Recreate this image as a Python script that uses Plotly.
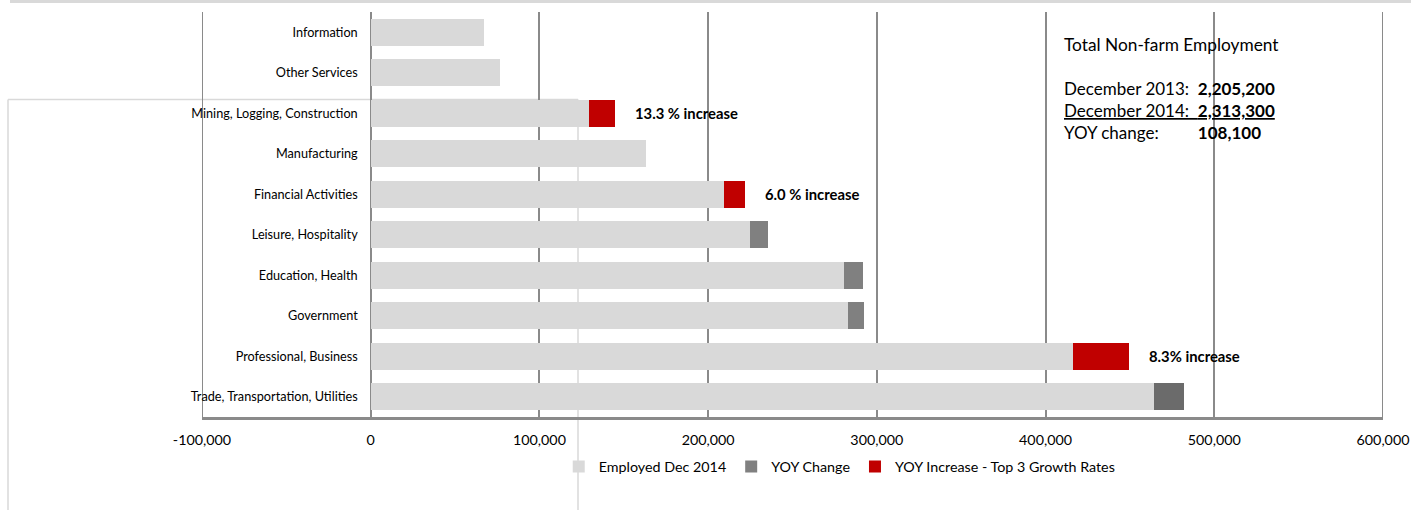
import plotly.graph_objects as go

# ---------------- data ----------------
categories = [
    "Information",
    "Other Services",
    "Mining, Logging, Construction",
    "Manufacturing",
    "Financial Activities",
    "Leisure, Hospitality",
    "Education, Health",
    "Government",
    "Professional, Business",
    "Trade, Transportation, Utilities",
]
employed_dec_2014 = [67000, 76900, 129200, 163000, 209200, 224700, 280800, 282800, 416500, 464000]
yoy_change = [0, 0, 0, 0, 0, 10800, 10800, 9800, 0, 17900]
yoy_top3 = [0, 0, 15400, 0, 12500, 0, 0, 0, 32800, 0]
growth_labels = ["", "", "13.3 % increase", "", "6.0 % increase", "", "", "", "8.3% increase", ""]

x_tickvals = [-100000, 0, 100000, 200000, 300000, 400000, 500000, 600000]
x_ticktext = ["-100,000", "0", "100,000", "200,000", "300,000", "400,000", "500,000", "600,000"]

summary_title = "Total Non-farm Employment"
summary_rows = [
    ("December 2013:", "2,205,200", False),
    ("December 2014:", "2,313,300", True),
    ("YOY change:", "108,100", False),
]

# ---------------- styles ----------------
FONT = "Lato, 'Open Sans', Arial, sans-serif"
LIGHT = "#d9d9d9"
DARK = "#808080"
DARKER = "#6b6b6b"
RED = "#c00000"
GRID = "#8a8a8a"

change_colors = [DARKER if c.startswith("Trade") else DARK for c in categories]

fig = go.Figure()
fig.add_trace(go.Bar(
    y=categories, x=employed_dec_2014, orientation="h",
    name="Employed Dec 2014", marker=dict(color=LIGHT, line=dict(width=0)),
))
fig.add_trace(go.Bar(
    y=categories, x=yoy_change, orientation="h",
    name="YOY Change", marker=dict(color=change_colors, line=dict(width=0)),
))
fig.add_trace(go.Bar(
    y=categories, x=yoy_top3, orientation="h",
    name="YOY Increase - Top 3 Growth Rates", marker=dict(color=RED, line=dict(width=0)),
))

# growth annotations next to red bars
for cat, e, c, t, lab in zip(categories, employed_dec_2014, yoy_change, yoy_top3, growth_labels):
    if lab:
        fig.add_annotation(
            x=e + c + t, y=cat, xref="x", yref="y",
            text="<b>" + lab + "</b>", showarrow=False,
            xanchor="left", yanchor="middle", xshift=18,
            font=dict(family=FONT, size=14.8, color="#000000"),
        )

# pixel -> paper helpers (plot area 202..1383 x 12..417)
def px_to_paper_x(px):
    return (px - 202) / 1181.0

def px_to_paper_y(py):
    return (417 - py) / 405.0

fig.add_annotation(
    x=px_to_paper_x(1062), y=px_to_paper_y(44), xref="paper", yref="paper",
    text=summary_title, showarrow=False, xanchor="left", yanchor="middle",
    font=dict(family=FONT, size=17.3, color="#000000"),
)
NB = "\u00a0"
for i, (lab, val, underline) in enumerate(summary_rows):
    gap = NB * 2 if i < 2 else NB * 9
    txt = lab + gap + "<b>" + val + "</b>"
    if underline:
        txt = '<span style="text-decoration:underline">' + txt + "</span>"
    fig.add_annotation(
        x=px_to_paper_x(1062), y=px_to_paper_y(88 + 22 * i), xref="paper", yref="paper",
        text=txt, showarrow=False, xanchor="left", yanchor="middle",
        font=dict(family=FONT, size=17, color="#000000"),
    )

# decorative lines from the original sheet + edge gridlines
deco = dict(color=LIGHT, width=1.5)
shapes = [
    dict(type="line", xref="paper", yref="paper",
         x0=px_to_paper_x(10), x1=px_to_paper_x(1411), y0=px_to_paper_y(1.5), y1=px_to_paper_y(1.5),
         line=dict(color=LIGHT, width=3), layer="below"),
    dict(type="line", xref="paper", yref="paper",
         x0=px_to_paper_x(8), x1=px_to_paper_x(578), y0=px_to_paper_y(99.5), y1=px_to_paper_y(99.5),
         line=deco, layer="below"),
    dict(type="line", xref="paper", yref="paper",
         x0=px_to_paper_x(8), x1=px_to_paper_x(8), y0=px_to_paper_y(99.5), y1=px_to_paper_y(512),
         line=deco, layer="below"),
    dict(type="line", xref="paper", yref="paper",
         x0=px_to_paper_x(578), x1=px_to_paper_x(578), y0=px_to_paper_y(99.5), y1=px_to_paper_y(512),
         line=deco, layer="below"),
]
for xv in (x_tickvals[0], x_tickvals[-1]):
    shapes.append(dict(type="line", xref="x", yref="paper", x0=xv, x1=xv, y0=0, y1=1,
                       line=dict(color=GRID, width=2), layer="below"))

fig.update_layout(
    width=1411, height=510,
    margin=dict(l=202, r=28, t=12, b=93, autoexpand=False),
    paper_bgcolor="white", plot_bgcolor="white",
    barmode="stack", bargap=0.33,
    font=dict(family=FONT, color="#000000"),
    shapes=shapes,
    showlegend=True,
    legend=dict(
        orientation="h", x=0.54, y=-0.123, xanchor="center", yanchor="middle",
        font=dict(family=FONT, size=14.3, color="#000000"),
        itemwidth=30, traceorder="normal", bgcolor="rgba(0,0,0,0)",
    ),
    xaxis=dict(
        range=[-100000, 600000], tickvals=x_tickvals, ticktext=x_ticktext,
        showgrid=True, gridcolor=GRID, gridwidth=2,
        zeroline=True, zerolinecolor=GRID, zerolinewidth=2,
        showline=True, linecolor=GRID, linewidth=2.5,
        ticks="", ticklabelstandoff=8, automargin=False,
        tickfont=dict(family=FONT, size=14.3, color="#000000"),
        fixedrange=True,
    ),
    yaxis=dict(
        type="category", categoryorder="array", categoryarray=categories,
        autorange="reversed", anchor="free", position=1 / 7,
        showgrid=False, showline=False, zeroline=False,
        ticks="", ticklabelstandoff=13, automargin=False,
        tickfont=dict(family=FONT, size=12.7, color="#000000"),
        fixedrange=True,
    ),
)

fig.write_html(
    "out.html",
    config={"displayModeBar": False},
    post_script="document.body.style.margin='0';",
)
